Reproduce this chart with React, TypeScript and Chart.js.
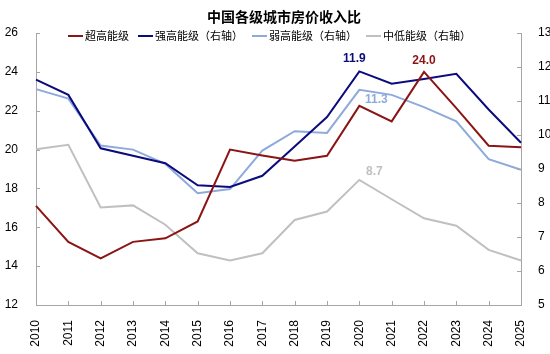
import React, { useEffect, useRef } from "react";
import { Chart, registerables } from "chart.js";

Chart.register(...registerables);

const years = ["2010","2011","2012","2013","2014","2015","2016","2017","2018","2019","2020","2021","2022","2023","2024","2025"];
const superHigh = [17.1, 15.25, 14.4, 15.25, 15.43, 16.3, 20.0, 19.7, 19.42, 19.68, 22.25, 21.45, 24.0, 22.13, 20.2, 20.12];
const strongHigh = [11.63, 11.18, 9.61, 9.39, 9.17, 8.52, 8.47, 8.8, 9.66, 10.53, 11.87, 11.51, 11.65, 11.8, 10.75, 9.77];
const weakHigh = [11.35, 11.07, 9.69, 9.57, 9.15, 8.29, 8.41, 9.54, 10.11, 10.06, 11.33, 11.18, 10.82, 10.4, 9.29, 8.98];
const midLow = [9.58, 9.71, 7.87, 7.93, 7.36, 6.52, 6.31, 6.52, 7.5, 7.75, 8.68, 8.11, 7.55, 7.33, 6.62, 6.31];

const seriesNames = ["超高能级", "强高能级（右轴）", "弱高能级（右轴）", "中低能级（右轴）"];
const colors = ["#8B1414", "#0B0B7E", "#8EAADC", "#C0C0C0"];
const titleText = "中国各级城市房价收入比";

// data labels: [seriesIndex, categoryIndex, text, dx, dy]
const dataLabels: [number, number, string, number, number][] = [
  [1, 10, "11.9", -5, -13],
  [0, 12, "24.0", 0, -11],
  [2, 10, "11.3", 17, 10],
  [3, 10, "8.7", 15, -8],
];

const CJK = "'Noto Sans CJK SC', 'Noto Sans', sans-serif";
const LAT = "'Liberation Sans', Arial, sans-serif";
const AXIS = "#A6A6A6";

const overlay = {
  id: "overlay",
  afterDraw(chart: any) {
    const ctx = chart.ctx;
    const { left, right, top, bottom } = chart.chartArea;
    const x = chart.scales.x;
    const yl = chart.scales.y;
    const yr = chart.scales.y1;
    ctx.save();
    // inward ticks
    ctx.strokeStyle = AXIS;
    ctx.lineWidth = 1;
    ctx.beginPath();
    yl.ticks.forEach((t: any) => {
      const py = Math.round(yl.getPixelForValue(t.value)) + 0.5;
      ctx.moveTo(left, py);
      ctx.lineTo(left + 4, py);
    });
    yr.ticks.forEach((t: any) => {
      const py = Math.round(yr.getPixelForValue(t.value)) + 0.5;
      ctx.moveTo(right, py);
      ctx.lineTo(right - 4, py);
    });
    years.forEach((_, i) => {
      const px = Math.round(x.getPixelForValue(i)) + 0.5;
      ctx.moveTo(px, bottom);
      ctx.lineTo(px, bottom - 4);
    });
    ctx.stroke();

    // title
    ctx.fillStyle = "#000";
    ctx.font = `bold 14px ${CJK}`;
    ctx.textAlign = "center";
    ctx.textBaseline = "middle";
    ctx.fillText(titleText, 284, 17);

    // legend
    ctx.font = `11px ${CJK}`;
    ctx.textAlign = "left";
    let lx = 68;
    const ly = 36;
    seriesNames.forEach((name, i) => {
      ctx.strokeStyle = colors[i];
      ctx.lineWidth = 2;
      ctx.beginPath();
      ctx.moveTo(lx, ly);
      ctx.lineTo(lx + 15, ly);
      ctx.stroke();
      lx += 17;
      ctx.fillStyle = "#000";
      ctx.fillText(name, lx, ly);
      lx += ctx.measureText(name).width + 9;
    });

    // data labels
    ctx.font = `bold 12px ${LAT}`;
    ctx.textAlign = "center";
    dataLabels.forEach(([si, ci, txt, dx, dy]) => {
      const meta = chart.getDatasetMeta(si);
      const el = meta.data[ci];
      ctx.fillStyle = colors[si];
      ctx.fillText(txt, el.x + dx, el.y + dy);
    });
    ctx.restore();
  },
};

export default function App() {
  const ref = useRef<HTMLCanvasElement>(null);
  useEffect(() => {
    if (!ref.current) return;
    const mk = (label: string, data: number[], color: string, axis: string) => ({
      label,
      data,
      borderColor: color,
      backgroundColor: color,
      borderWidth: 2,
      pointRadius: 0,
      pointHoverRadius: 0,
      tension: 0,
      yAxisID: axis,
    });
    const chart = new Chart(ref.current, {
      type: "line",
      data: {
        labels: years,
        datasets: [
          mk(seriesNames[3], midLow, colors[3], "y1"),
          mk(seriesNames[2], weakHigh, colors[2], "y1"),
          mk(seriesNames[1], strongHigh, colors[1], "y1"),
          mk(seriesNames[0], superHigh, colors[0], "y"),
        ].reverse().map((d, i, arr) => d) as any,
      },
      options: {
        responsive: false,
        animation: false,
        devicePixelRatio: 1,
        layout: { padding: { top: 33, left: 0, right: 0, bottom: 0 } },
        plugins: { legend: { display: false }, title: { display: false }, tooltip: { enabled: false } },
        scales: {
          x: {
            type: "category",
            offset: false,
            grid: { display: false },
            border: { display: true, color: AXIS, width: 1 },
            ticks: {
              minRotation: 90,
              maxRotation: 90,
              autoSkip: false,
              padding: 7,
              color: "#000",
              font: { family: LAT, size: 12 },
            },
            afterFit: (s: any) => { s.height = 49; },
          },
          y: {
            position: "left",
            min: 12,
            max: 26,
            grid: { display: false },
            border: { display: true, color: AXIS, width: 1 },
            ticks: { stepSize: 2, padding: 10, color: "#000", font: { family: LAT, size: 12 } },
            afterFit: (s: any) => { s.width = 36; },
          },
          y1: {
            position: "right",
            min: 5,
            max: 13,
            grid: { display: false },
            border: { display: true, color: AXIS, width: 1 },
            ticks: { stepSize: 1, padding: 9, color: "#000", font: { family: LAT, size: 12 } },
            afterFit: (s: any) => { s.width = 29; },
          },
        },
      },
      plugins: [overlay],
    });
    return () => chart.destroy();
  }, []);
  return (
    <div style={{ position: "absolute", left: 0, top: 0, width: 550, height: 354, background: "#fff" }}>
      <canvas ref={ref} width={550} height={354} style={{ width: 550, height: 354 }} />
    </div>
  );
}
